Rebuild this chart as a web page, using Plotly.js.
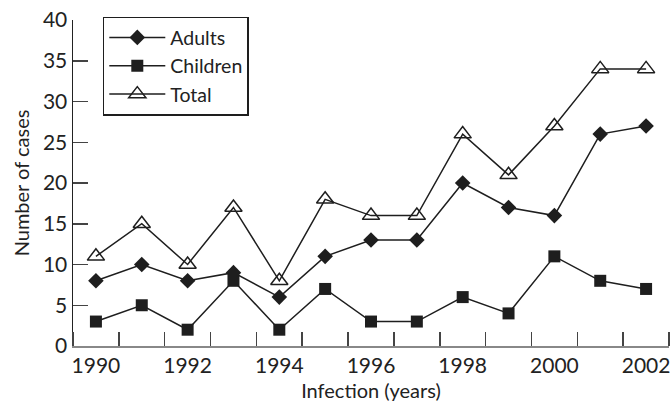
<!DOCTYPE html>
<html>
<head>
<meta charset="utf-8">
<script src="https://cdn.plot.ly/plotly-3.0.1.min.js"></script>
<style>html,body{margin:0;padding:0;background:#fff;}#chart{width:670px;height:402px;}</style>
</head>
<body>
<div id="chart"></div>
<script>
const years = [1990,1991,1992,1993,1994,1995,1996,1997,1998,1999,2000,2001,2002];
const adults = [8,10,8,9,6,11,13,13,20,17,16,26,27];
const children = [3,5,2,8,2,7,3,3,6,4,11,8,7];
const total = [11,15,10,17,8,18,16,16,26,21,27,34,34];
const xTickVals = [1990,1992,1994,1996,1998,2000,2002];
const yTickVals = [0,5,10,15,20,25,30,35,40];

const ink = '#1e1e1e';
const traces = [
  {x: years, y: adults, name: 'Adults', mode: 'lines+markers',
   line: {color: ink, width: 1.5},
   marker: {symbol: 'diamond', size: 12, color: ink}},
  {x: years, y: children, name: 'Children', mode: 'lines+markers',
   line: {color: ink, width: 1.5},
   marker: {symbol: 'square', size: 12, color: ink}},
  {x: years, y: total, name: 'Total', mode: 'lines+markers',
   line: {color: ink, width: 1.5},
   marker: {symbol: 'triangle-up-open', size: 15, color: ink, line: {width: 1.5, color: ink}}}
];

const layout = {
  width: 670, height: 402,
  margin: {l: 73, r: 1, t: 20, b: 56},
  paper_bgcolor: '#fff', plot_bgcolor: '#fff',
  font: {family: 'Lato, "Open Sans", sans-serif', size: 21, color: '#222'},
  showlegend: true,
  legend: {x: 0.05, y: 1.01, xanchor: 'left', yanchor: 'top',
    bordercolor: ink, borderwidth: 1.5, bgcolor: '#fff',
    itemwidth: 56,
    font: {size: 19.5, color: '#222'}, tracegroupgap: 0},
  xaxis: {
    range: [1989.5, 2002.5], tickmode: 'array', tickvals: xTickVals,
    ticks: '', showgrid: false, zeroline: false,
    showline: true, linecolor: '#888', linewidth: 2,
    ticklabeloverflow: 'allow',
    tickfont: {size: 21, color: '#222'},
    minor: {tick0: 1989.5, dtick: 1, ticks: 'inside', ticklen: 14, tickwidth: 1.5, tickcolor: '#444', showgrid: false},
    title: {text: 'Infection (years)', font: {size: 20, color: '#222'}, standoff: 10}
  },
  yaxis: {
    range: [0, 40], tickmode: 'array', tickvals: yTickVals,
    ticks: 'inside', ticklen: 15, tickwidth: 1.5, tickcolor: '#444',
    showgrid: false, zeroline: false,
    showline: true, linecolor: '#222', linewidth: 1.5,
    tickfont: {size: 21, color: '#222'},
    title: {text: 'Number of cases', font: {size: 20, color: '#222'}, standoff: 8}
  }
};

Plotly.newPlot('chart', traces, layout, {staticPlot: true, displayModeBar: false});
</script>
</body>
</html>
